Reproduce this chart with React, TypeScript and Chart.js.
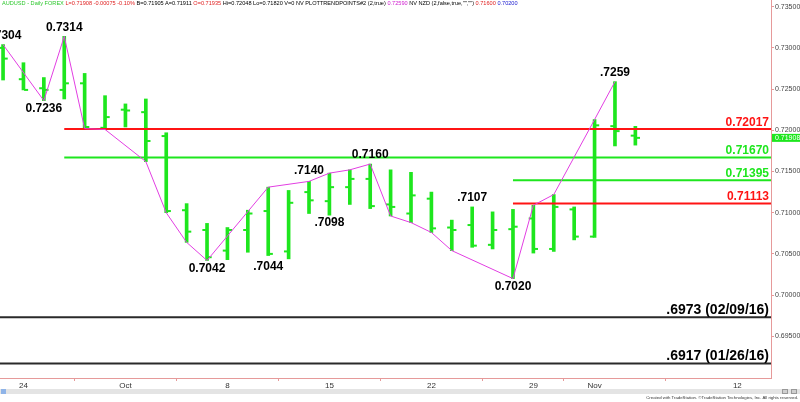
import React, { useEffect, useRef } from "react";
import { Chart, registerables } from "chart.js";

Chart.register(...registerables);

// ---------- DATA ----------
const dates = [
  "Sep 21", "Sep 24", "Sep 25", "Sep 26", "Sep 27", "Sep 28",
  "Oct 1", "Oct 2", "Oct 3", "Oct 4", "Oct 5",
  "Oct 8", "Oct 9", "Oct 10", "Oct 11", "Oct 12",
  "Oct 15", "Oct 16", "Oct 17", "Oct 18", "Oct 19",
  "Oct 22", "Oct 23", "Oct 24", "Oct 25", "Oct 26",
  "Oct 29", "Oct 30", "Oct 31", "Nov 1", "Nov 2", "Nov 5",
];
const opens = [
  0.7300, 0.7262, 0.7251, 0.7249, 0.7257, 0.7203,
  0.7225, 0.7222, 0.7193, 0.7103, 0.7079,
  0.7054, 0.7079, 0.7102, 0.7053, 0.7125,
  0.7114, 0.7131, 0.7141, 0.7110, 0.7099,
  0.7117, 0.7082, 0.7085, 0.7061, 0.7080,
  0.7093, 0.7056, 0.7104, 0.7071, 0.7205, 0.71935,
];
const highs = [
  0.7304, 0.7282, 0.7264, 0.7314, 0.7269, 0.7242,
  0.7232, 0.7238, 0.7197, 0.7111, 0.7087,
  0.7082, 0.7103, 0.7131, 0.7127, 0.7138,
  0.7148, 0.7152, 0.7159, 0.7152, 0.7149,
  0.7125, 0.7091, 0.7107, 0.7101, 0.7104,
  0.7109, 0.7122, 0.7107, 0.7213, 0.7259, 0.72048,
];
const lows = [
  0.7261, 0.7249, 0.7236, 0.7238, 0.7202, 0.7201,
  0.7204, 0.7162, 0.7100, 0.7064, 0.7042,
  0.7043, 0.7052, 0.7048, 0.7044, 0.7099,
  0.7097, 0.7110, 0.7105, 0.7096, 0.7088,
  0.7076, 0.7054, 0.7058, 0.7056, 0.7020,
  0.7051, 0.7053, 0.7067, 0.7070, 0.7181, 0.71820,
];
const closes = [
  0.7287, 0.7249, 0.7249, 0.7257, 0.7204, 0.7216,
  0.7224, 0.7187, 0.7102, 0.7077, 0.7046,
  0.7079, 0.7099, 0.7050, 0.7112, 0.7115,
  0.7131, 0.7141, 0.7108, 0.7107, 0.7121,
  0.7081, 0.7079, 0.7060, 0.7079, 0.7083,
  0.7056, 0.7107, 0.7071, 0.7206, 0.7199, 0.71908,
];

// trend-point (zig-zag) line: bar index + value
const trendIdx = [0, 2, 3, 4, 5, 7, 8, 9, 10, 13, 15, 16, 17, 18, 19, 20, 21, 22, 25, 26, 27, 29, 30];
const trendVals = [
  0.7304, 0.7236, 0.7314, 0.7202, 0.7201, 0.7162, 0.7100, 0.7064, 0.7042, 0.7131,
  0.7138, 0.7148, 0.7152, 0.7159, 0.7096, 0.7088, 0.7076, 0.7054, 0.7020, 0.7109,
  0.7122, 0.7213, 0.7259,
];

// horizontal levels
const levelValues = [0.72017, 0.7167, 0.71395, 0.71113, 0.6973, 0.6917];
const levelTexts = ["0.72017", "0.71670", "0.71395", "0.71113", ".6973 (02/09/16)", ".6917 (01/26/16)"];
const levelStarts = [3, 3, 25, 25, -0.15, -0.15];
const levelColors = ["#ff1414", "#1ee61e", "#1ee61e", "#ff1414", "#2a2a2a", "#2a2a2a"];
const levelTextColors = ["#ff1414", "#1ee61e", "#1ee61e", "#ff1414", "#000000", "#000000"];
const levelTextSizes = [12, 12, 12, 12, 14, 14];

// swing labels
const swingIdx = [0, 3, 2, 10, 13, 15, 16, 18, 23, 25, 30];
const swingVals = [0.7304, 0.7314, 0.7236, 0.7042, 0.7044, 0.7140, 0.7098, 0.7160, 0.7107, 0.7020, 0.7259];
const swingTexts = ["0.7304", "0.7314", "0.7236", "0.7042", ".7044", ".7140", ".7098", "0.7160", ".7107", "0.7020", ".7259"];
const swingAbove = [true, true, false, false, false, true, false, true, true, false, true];

// axes
const xTickIdx = [1, 6, 11, 16, 21, 26, 29, 36];
const xTickLabels = ["24", "Oct", "8", "15", "22", "29", "Nov", "12"];
const yTicks = [0.695, 0.7, 0.705, 0.71, 0.715, 0.72, 0.725, 0.73, 0.735];
const xMin = -0.15;
const xMax = 37.65;
const yMin = 0.68994;
const yMax = 0.73581;
const lastPrice = 0.71908;

const FONT = "'Liberation Sans', Arial, sans-serif";
const BAR_GREEN = "#1ee61e";

function zeroPadding(a: any) {
  a.paddingLeft = 0;
  a.paddingRight = 0;
  a.paddingTop = 0;
  a.paddingBottom = 0;
}

export default function App() {
  const ref = useRef<HTMLCanvasElement>(null);

  useEffect(() => {
    document.body.style.margin = "0";
    const canvas = ref.current;
    if (!canvas) return;

    const annot = {
      id: "annot",
      afterDatasetsDraw(chart: any) {
        const { ctx, chartArea, scales } = chart;
        const xs = scales.x;
        const ys = scales.y;
        ctx.save();
        ctx.textAlign = "right";
        ctx.textBaseline = "alphabetic";
        levelValues.forEach((v, k) => {
          ctx.font = `bold ${levelTextSizes[k]}px ${FONT}`;
          ctx.fillStyle = levelTextColors[k];
          ctx.fillText(levelTexts[k], chartArea.right - 2, ys.getPixelForValue(v) - 3);
        });
        ctx.font = `bold 12px ${FONT}`;
        ctx.textAlign = "center";
        ctx.textBaseline = "middle";
        ctx.fillStyle = "#000";
        swingIdx.forEach((i, k) => {
          const px = xs.getPixelForValue(i);
          const py = ys.getPixelForValue(swingVals[k]) + (swingAbove[k] ? -9 : 8);
          ctx.fillText(swingTexts[k], px, py);
        });
        ctx.restore();
      },
      afterDraw(chart: any) {
        const { ctx, chartArea, scales } = chart;
        const y = scales.y.getPixelForValue(lastPrice);
        ctx.save();
        ctx.fillStyle = BAR_GREEN;
        ctx.fillRect(chartArea.right + 1, y - 4, 29, 8);
        ctx.fillStyle = "#ffffff";
        ctx.font = `7px ${FONT}`;
        ctx.textAlign = "left";
        ctx.textBaseline = "middle";
        ctx.fillText(lastPrice.toFixed(5), chartArea.right + 4, y + 0.5);
        ctx.restore();
      },
    };

    const datasets: any[] = [];
    // high-low bars
    datasets.push({
      type: "bar",
      data: dates.map((_, i) => ({ x: i, y: [lows[i], highs[i]] })),
      backgroundColor: BAR_GREEN,
      borderWidth: 0,
      barThickness: 3,
      grouped: false,
      order: 10,
    });
    // open ticks (left) and close ticks (right)
    const tickStyle = {
      type: "line",
      showLine: false,
      pointStyle: "line",
      pointRadius: 2,
      pointHoverRadius: 2,
      pointBorderWidth: 2,
      pointBorderColor: BAR_GREEN,
      pointBackgroundColor: BAR_GREEN,
      order: 9,
    };
    datasets.push({ ...tickStyle, data: opens.map((o, i) => ({ x: i - 0.13, y: o })) });
    datasets.push({ ...tickStyle, data: closes.map((c, i) => ({ x: i + 0.13, y: c })) });
    // levels
    levelValues.forEach((v, k) => {
      datasets.push({
        type: "line",
        data: [
          { x: levelStarts[k], y: v },
          { x: xMax, y: v },
        ],
        borderColor: levelColors[k],
        borderWidth: 2,
        pointRadius: 0,
        pointHoverRadius: 0,
        order: 5,
      });
    });
    // trend line
    datasets.push({
      type: "line",
      data: trendIdx.map((x, k) => ({ x, y: trendVals[k] })),
      borderColor: "#e23ee2",
      borderWidth: 1,
      pointRadius: 0,
      pointHoverRadius: 0,
      tension: 0,
      order: 1,
    });

    const chart = new Chart(canvas, {
      type: "bar",
      data: { datasets },
      options: {
        responsive: false,
        animation: false,
        events: [],
        layout: { padding: 0, autoPadding: false },
        plugins: { legend: { display: false }, tooltip: { enabled: false } },
        scales: {
          x: {
            type: "linear",
            min: xMin,
            max: xMax,
            offset: false,
            afterBuildTicks: (a: any) => {
              a.ticks = xTickIdx.map((v) => ({ value: v }));
            },
            afterFit: (a: any) => {
              a.height = 24;
              zeroPadding(a);
            },
            grid: { drawOnChartArea: false, drawTicks: true, tickLength: 3, color: "#e69a9a" },
            border: { color: "#e69a9a", width: 1 },
            ticks: {
              autoSkip: false,
              maxRotation: 0,
              padding: 0,
              color: "#333",
              font: { size: 8, family: FONT },
              callback: (_v: any, i: number) => xTickLabels[i],
            },
          },
          y: {
            type: "linear",
            position: "right",
            min: yMin,
            max: yMax,
            afterBuildTicks: (a: any) => {
              a.ticks = yTicks.map((v) => ({ value: v }));
            },
            afterFit: (a: any) => {
              a.width = 29;
              zeroPadding(a);
            },
            grid: { drawOnChartArea: false, drawTicks: true, tickLength: 3, color: "#e69a9a" },
            border: { color: "#e69a9a", width: 1 },
            ticks: {
              padding: 1,
              color: "#444",
              font: { size: 7, family: FONT },
              callback: (v: any) => Number(v).toFixed(5),
            },
          },
        },
      } as any,
      plugins: [annot],
    });

    return () => chart.destroy();
  }, []);

  const hdr: React.CSSProperties = {
    position: "absolute",
    top: 0,
    left: 2,
    fontFamily: FONT,
    fontSize: "5.6px",
    lineHeight: "7px",
    whiteSpace: "nowrap",
    color: "#000",
  };

  return (
    <div style={{ position: "relative", width: 800, height: 402, background: "#fff", overflow: "hidden" }}>
      <canvas ref={ref} width={800} height={402} style={{ display: "block" }} />
      <div style={hdr}>
        <span style={{ color: "#2ec82e" }}>AUDUSD - Daily FOREX</span>{" "}
        <span style={{ color: "#e02020" }}>L=0.71908 -0.00075 -0.10%</span>{" "}
        <span>B=0.71905 A=0.71911</span>{" "}
        <span style={{ color: "#e02020" }}>O=0.71935</span>{" "}
        <span>Hi=0.72048 Lo=0.71820 V=0 NV PLOTTRENDPOINTS#2 (2,true)</span>{" "}
        <span style={{ color: "#d020d0" }}>0.72590</span>{" "}
        <span>NV NZD (2,false,true,"","")</span>{" "}
        <span style={{ color: "#e02020" }}>0.71600</span>{" "}
        <span style={{ color: "#2020d0" }}>0.70200</span>
      </div>
      <div style={{ position: "absolute", left: 0, top: 389, width: 800, height: 5, background: "#e4e4e4" }} />
      <div style={{ position: "absolute", left: 1, top: 389, width: 5, height: 5, background: "#8fb4e8" }} />
      <div style={{ position: "absolute", left: 782, top: 389, width: 6, height: 5, background: "#cfcfcf", border: "0.5px solid #999", boxSizing: "border-box" }} />
      <div style={{ position: "absolute", left: 791, top: 389, width: 6, height: 5, background: "#cfcfcf", border: "0.5px solid #999", boxSizing: "border-box" }} />
      <div
        style={{
          position: "absolute",
          right: 2,
          top: 395,
          fontFamily: FONT,
          fontSize: "4.3px",
          lineHeight: "6px",
          whiteSpace: "nowrap",
          color: "#333",
        }}
      >
        Created with TradeStation. ©TradeStation Technologies, Inc. All rights reserved.
      </div>
    </div>
  );
}
